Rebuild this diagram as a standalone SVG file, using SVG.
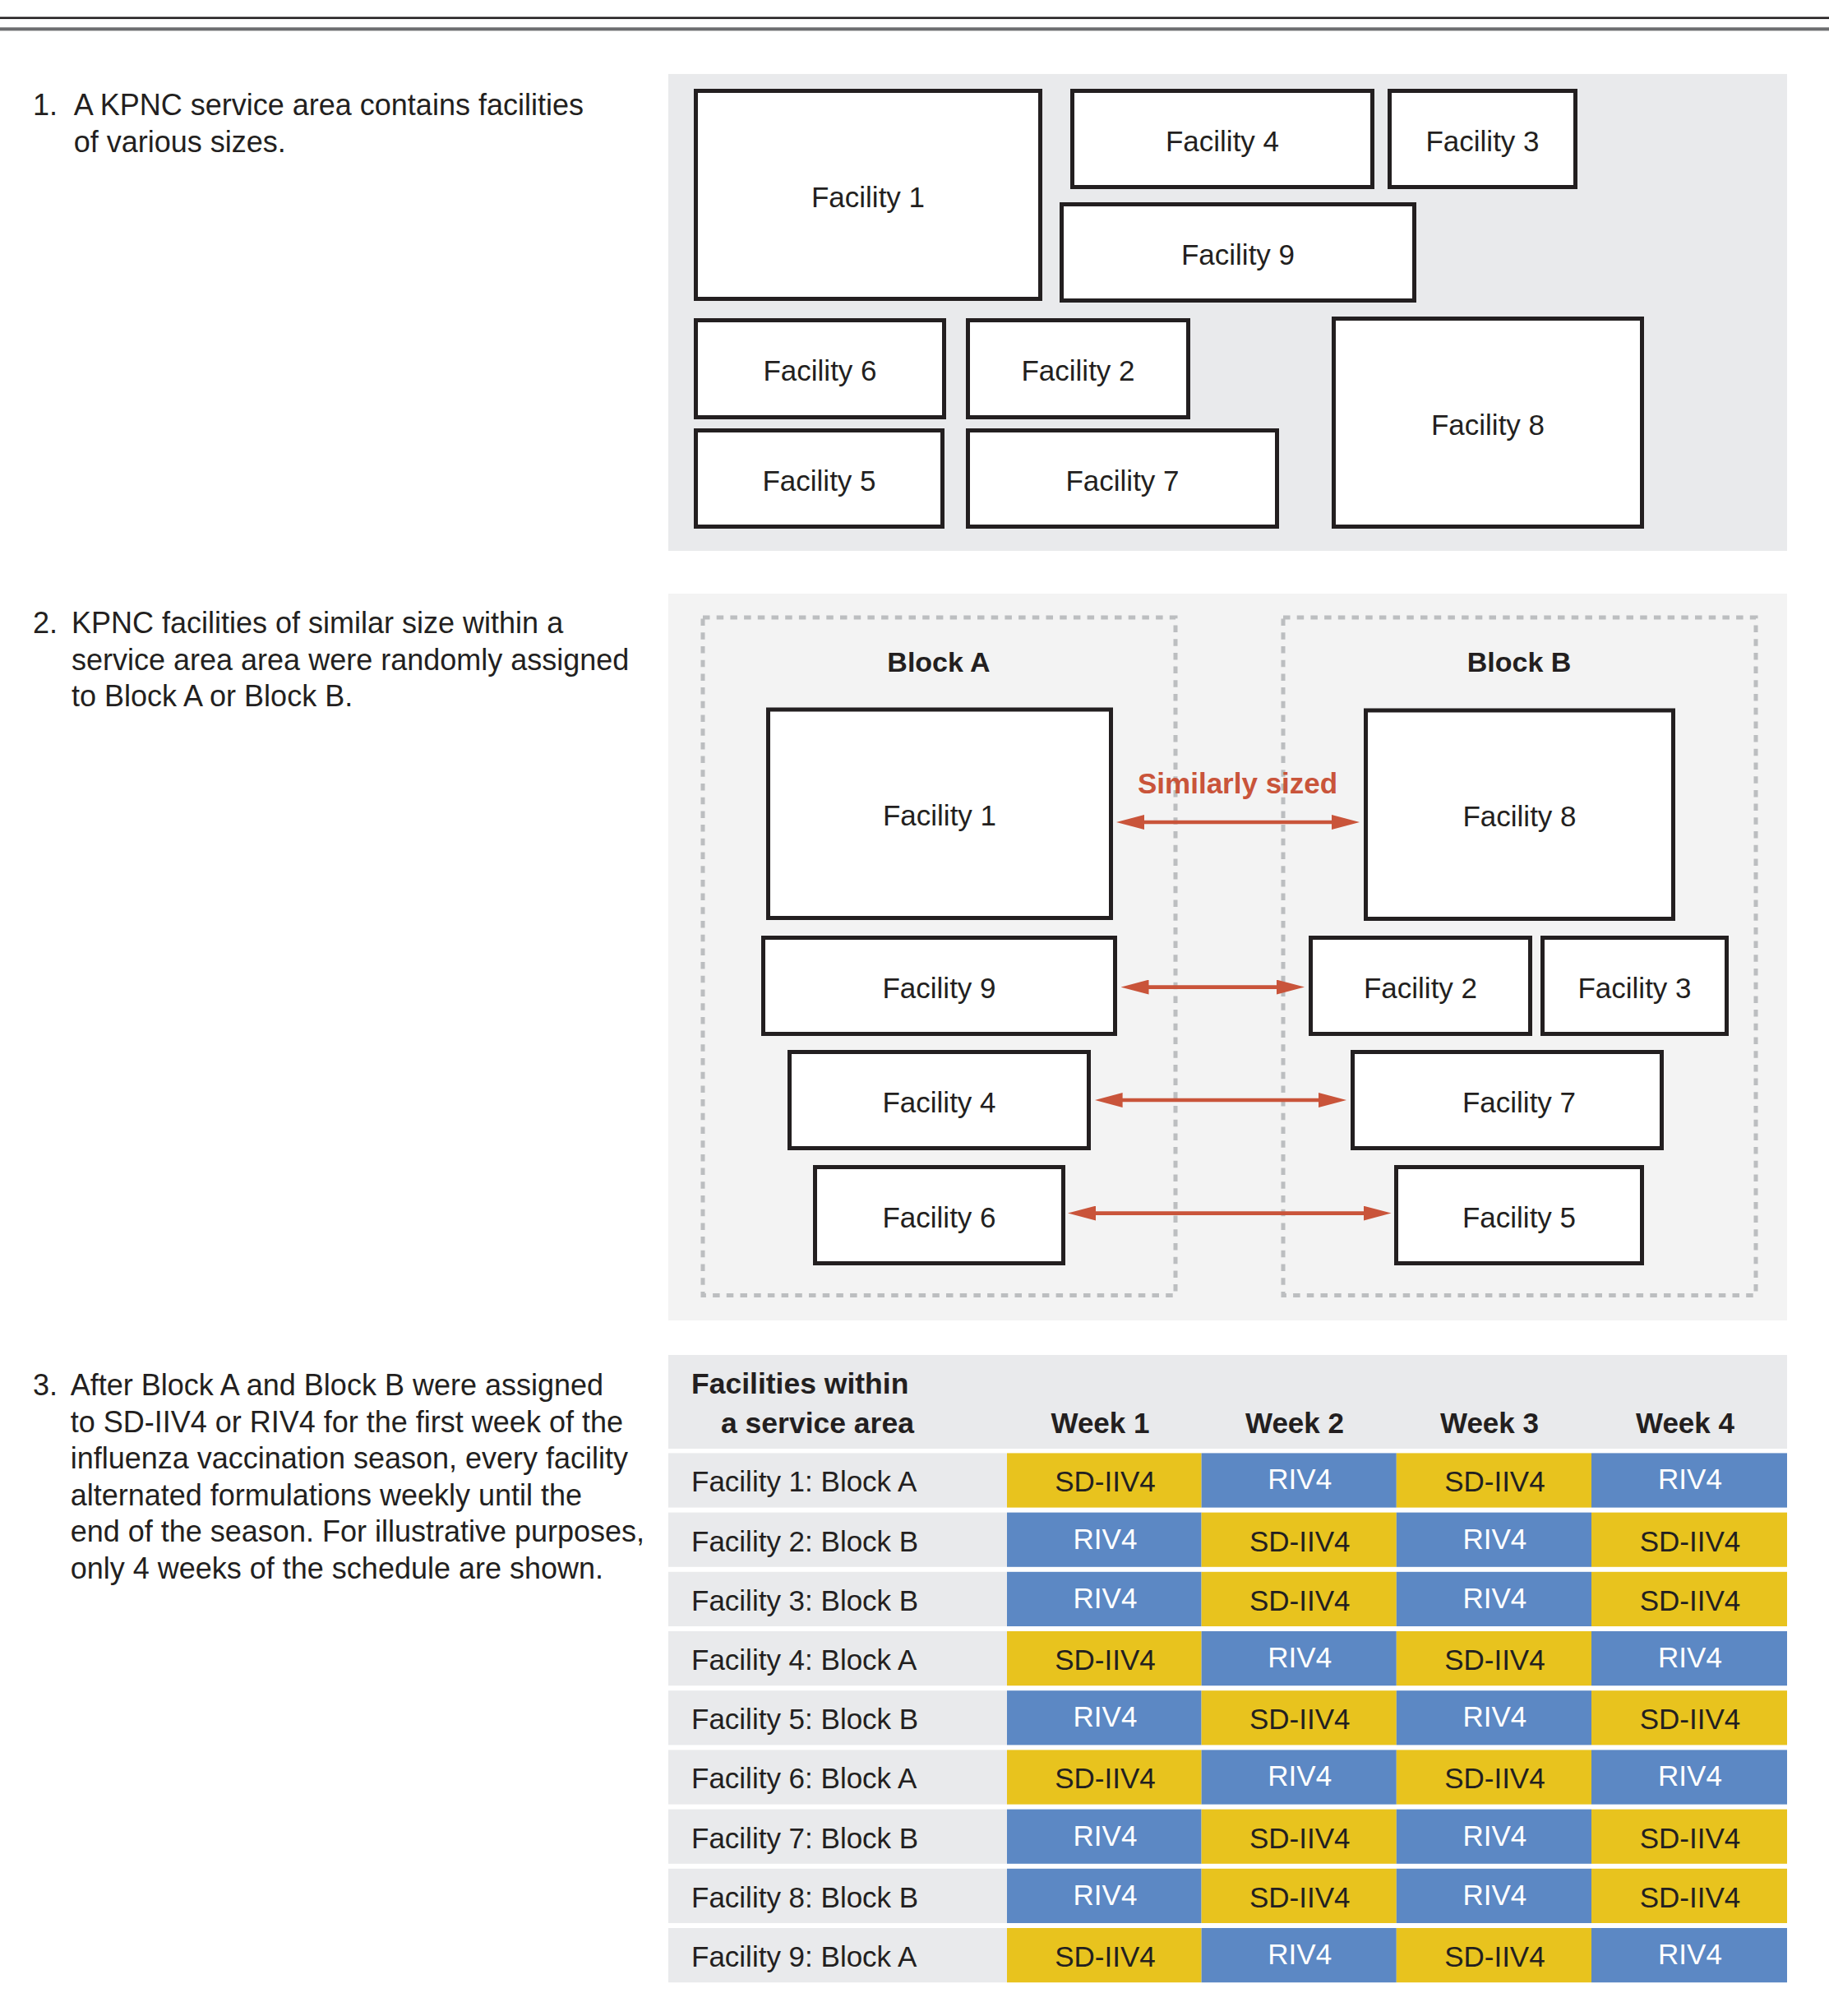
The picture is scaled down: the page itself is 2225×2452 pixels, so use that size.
<svg xmlns="http://www.w3.org/2000/svg" width="2225" height="2452" viewBox="0 0 2225 2452">
<defs>
<style>
text{font-family:"Liberation Sans",Arial,sans-serif;fill:#231F20}
.para{font-size:36px}
.num{font-size:36px;text-anchor:end}
.fac{fill:#FFFFFF;stroke:#231F20;stroke-width:5}
.lbl{font-size:35px;text-anchor:middle}
.blk{font-size:34px;font-weight:bold;text-anchor:middle}
.dash{fill:none;stroke:#BCBEC0;stroke-width:5;stroke-dasharray:8.5 8.2}
.conn{stroke:#C9543A;stroke-width:4.6;fill:none;marker-start:url(#ah);marker-end:url(#ah)}
.red{font-size:35px;font-weight:bold;text-anchor:middle;fill:#C9543A}
.hdr{font-size:35.5px;font-weight:bold}
.wk{font-size:35px;font-weight:bold;text-anchor:middle}
.rl{fill:#E9EAEC}
.sd{fill:#E8C31E}
.riv{fill:#5C88C4}
.rowt{font-size:35px}
.sdt{font-size:35px;text-anchor:middle;fill:#231F20}
.rivt{font-size:35px;text-anchor:middle;fill:#FFFFFF}
</style>
<marker id="ah" markerUnits="userSpaceOnUse" markerWidth="34" markerHeight="18" viewBox="0 0 34 18" refX="19" refY="9" orient="auto-start-reverse">
<path d="M0,0 L34,9 L0,18 Z" fill="#C9543A"/>
</marker>
</defs>
<rect x="0" y="0" width="2225" height="2452" fill="#FFFFFF"/>
<rect x="0" y="20.5" width="2225" height="2.6" fill="#231F20"/>
<rect x="0" y="33.3" width="2225" height="4.1" fill="#6D6E70"/>

<g id="step1-text">
<text class="num" x="70" y="140">1.</text>
<text class="para" x="89.7" y="140">A KPNC service area contains facilities</text>
<text class="para" x="89.7" y="185">of various sizes.</text>
</g>
<g id="step2-text">
<text class="num" x="70" y="770">2.</text>
<text class="para" x="87" y="770">KPNC facilities of similar size within a</text>
<text class="para" x="87" y="814.5">service area area were randomly assigned</text>
<text class="para" x="87" y="859">to Block A or Block B.</text>
</g>
<g id="step3-text">
<text class="num" x="70" y="1697">3.</text>
<text class="para" x="85.7" y="1697">After Block A and Block B were assigned</text>
<text class="para" x="85.7" y="1741.5">to SD-IIV4 or RIV4 for the first week of the</text>
<text class="para" x="85.7" y="1786">influenza vaccination season, every facility</text>
<text class="para" x="85.7" y="1830.5">alternated formulations weekly until the</text>
<text class="para" x="85.7" y="1875">end of the season. For illustrative purposes,</text>
<text class="para" x="85.7" y="1919.5">only 4 weeks of the schedule are shown.</text>
</g>

<g id="panel1">
<rect x="813" y="90" width="1361" height="580" fill="#E9EAEC"/>
<g id="p1-facility1"><rect class="fac" x="846.5" y="110.5" width="419" height="253"/><text class="lbl" x="1056" y="251.5">Facility 1</text></g>
<g id="p1-facility4"><rect class="fac" x="1304.5" y="110.5" width="365" height="117"/><text class="lbl" x="1487" y="183.5">Facility 4</text></g>
<g id="p1-facility3"><rect class="fac" x="1690.5" y="110.5" width="226" height="117"/><text class="lbl" x="1803.5" y="183.5">Facility 3</text></g>
<g id="p1-facility9"><rect class="fac" x="1291.5" y="248.5" width="429" height="117"/><text class="lbl" x="1506" y="321.5">Facility 9</text></g>
<g id="p1-facility6"><rect class="fac" x="846.5" y="389.5" width="302" height="118"/><text class="lbl" x="997.5" y="463">Facility 6</text></g>
<g id="p1-facility2"><rect class="fac" x="1177.5" y="389.5" width="268" height="118"/><text class="lbl" x="1311.5" y="463">Facility 2</text></g>
<g id="p1-facility5"><rect class="fac" x="846.5" y="523.5" width="300" height="117"/><text class="lbl" x="996.5" y="596.5">Facility 5</text></g>
<g id="p1-facility7"><rect class="fac" x="1177.5" y="523.5" width="376" height="117"/><text class="lbl" x="1365.5" y="596.5">Facility 7</text></g>
<g id="p1-facility8"><rect class="fac" x="1622.5" y="387.5" width="375" height="253"/><text class="lbl" x="1810" y="528.5">Facility 8</text></g>
</g>

<g id="panel2">
<rect x="813" y="722" width="1361" height="884" fill="#F3F3F3"/>
<g id="blockA"><rect class="dash" x="855" y="751" width="575" height="824.5"/><text class="blk" x="1142" y="816.5">Block A</text></g>
<g id="blockB"><rect class="dash" x="1561" y="751" width="575" height="824.5"/><text class="blk" x="1848" y="816.5">Block B</text></g>
<g id="p2-facility1"><rect class="fac" x="934.5" y="863" width="417" height="253.5"/><text class="lbl" x="1143" y="1004">Facility 1</text></g>
<g id="p2-facility8"><rect class="fac" x="1661.5" y="864" width="374" height="253.5"/><text class="lbl" x="1848.5" y="1005">Facility 8</text></g>
<g id="p2-facility9"><rect class="fac" x="928.5" y="1140.5" width="428" height="117"/><text class="lbl" x="1142.5" y="1213.5">Facility 9</text></g>
<g id="p2-facility2"><rect class="fac" x="1594.5" y="1140.5" width="267" height="117"/><text class="lbl" x="1728" y="1213.5">Facility 2</text></g>
<g id="p2-facility3"><rect class="fac" x="1876.5" y="1140.5" width="224" height="117"/><text class="lbl" x="1988.5" y="1213.5">Facility 3</text></g>
<g id="p2-facility4"><rect class="fac" x="960.5" y="1279.5" width="364" height="117"/><text class="lbl" x="1142.5" y="1352.5">Facility 4</text></g>
<g id="p2-facility7"><rect class="fac" x="1645.5" y="1279.5" width="376" height="117"/><text class="lbl" x="1848" y="1352.5">Facility 7</text></g>
<g id="p2-facility6"><rect class="fac" x="991.5" y="1419.5" width="302" height="117"/><text class="lbl" x="1142.5" y="1492.5">Facility 6</text></g>
<g id="p2-facility5"><rect class="fac" x="1698.5" y="1419.5" width="299" height="117"/><text class="lbl" x="1848" y="1492.5">Facility 5</text></g>
</g>

<g id="connectors">
<line class="conn" x1="1373" y1="1000" x2="1639" y2="1000"/>
<line class="conn" x1="1378.5" y1="1200.6" x2="1572" y2="1200.6"/>
<line class="conn" x1="1346.6" y1="1338" x2="1623" y2="1338"/>
<line class="conn" x1="1314" y1="1475.6" x2="1677.5" y2="1475.6"/>
<text class="red" x="1505.6" y="964.8">Similarly sized</text>
</g>

<g id="schedule-table">
<g id="table-header">
<rect x="813" y="1648" width="1361" height="114" fill="#E9EAEC"/>
<text class="hdr" x="841" y="1695">Facilities within</text>
<text class="hdr" x="877" y="1743">a service area</text>
<text class="wk" x="1338.5" y="1743">Week 1</text>
<text class="wk" x="1575" y="1743">Week 2</text>
<text class="wk" x="1812" y="1743">Week 3</text>
<text class="wk" x="2050" y="1743">Week 4</text>
</g>
<g id="row1">
<rect class="rl" x="813" y="1767.4" width="412" height="66.2"/>
<text class="rowt" x="841" y="1814.4">Facility 1: Block A</text>
<rect class="sd" x="1225" y="1767.4" width="236.6" height="66.2"/><text class="sdt" x="1344.5" y="1814.4">SD-IIV4</text>
<rect class="riv" x="1461.6" y="1767.4" width="237.2" height="66.2"/><text class="rivt" x="1581.2" y="1811.4">RIV4</text>
<rect class="sd" x="1698.8" y="1767.4" width="237.2" height="66.2"/><text class="sdt" x="1818.4" y="1814.4">SD-IIV4</text>
<rect class="riv" x="1936" y="1767.4" width="238" height="66.2"/><text class="rivt" x="2056" y="1811.4">RIV4</text>
</g>
<g id="row2">
<rect class="rl" x="813" y="1839.6" width="412" height="66.2"/>
<text class="rowt" x="841" y="1886.6">Facility 2: Block B</text>
<rect class="riv" x="1225" y="1839.6" width="236.6" height="66.2"/><text class="rivt" x="1344.5" y="1883.6">RIV4</text>
<rect class="sd" x="1461.6" y="1839.6" width="237.2" height="66.2"/><text class="sdt" x="1581.2" y="1886.6">SD-IIV4</text>
<rect class="riv" x="1698.8" y="1839.6" width="237.2" height="66.2"/><text class="rivt" x="1818.4" y="1883.6">RIV4</text>
<rect class="sd" x="1936" y="1839.6" width="238" height="66.2"/><text class="sdt" x="2056" y="1886.6">SD-IIV4</text>
</g>
<g id="row3">
<rect class="rl" x="813" y="1911.8" width="412" height="66.2"/>
<text class="rowt" x="841" y="1958.8">Facility 3: Block B</text>
<rect class="riv" x="1225" y="1911.8" width="236.6" height="66.2"/><text class="rivt" x="1344.5" y="1955.8">RIV4</text>
<rect class="sd" x="1461.6" y="1911.8" width="237.2" height="66.2"/><text class="sdt" x="1581.2" y="1958.8">SD-IIV4</text>
<rect class="riv" x="1698.8" y="1911.8" width="237.2" height="66.2"/><text class="rivt" x="1818.4" y="1955.8">RIV4</text>
<rect class="sd" x="1936" y="1911.8" width="238" height="66.2"/><text class="sdt" x="2056" y="1958.8">SD-IIV4</text>
</g>
<g id="row4">
<rect class="rl" x="813" y="1984" width="412" height="66.2"/>
<text class="rowt" x="841" y="2031">Facility 4: Block A</text>
<rect class="sd" x="1225" y="1984" width="236.6" height="66.2"/><text class="sdt" x="1344.5" y="2031">SD-IIV4</text>
<rect class="riv" x="1461.6" y="1984" width="237.2" height="66.2"/><text class="rivt" x="1581.2" y="2028">RIV4</text>
<rect class="sd" x="1698.8" y="1984" width="237.2" height="66.2"/><text class="sdt" x="1818.4" y="2031">SD-IIV4</text>
<rect class="riv" x="1936" y="1984" width="238" height="66.2"/><text class="rivt" x="2056" y="2028">RIV4</text>
</g>
<g id="row5">
<rect class="rl" x="813" y="2056.2" width="412" height="66.2"/>
<text class="rowt" x="841" y="2103.2">Facility 5: Block B</text>
<rect class="riv" x="1225" y="2056.2" width="236.6" height="66.2"/><text class="rivt" x="1344.5" y="2100.2">RIV4</text>
<rect class="sd" x="1461.6" y="2056.2" width="237.2" height="66.2"/><text class="sdt" x="1581.2" y="2103.2">SD-IIV4</text>
<rect class="riv" x="1698.8" y="2056.2" width="237.2" height="66.2"/><text class="rivt" x="1818.4" y="2100.2">RIV4</text>
<rect class="sd" x="1936" y="2056.2" width="238" height="66.2"/><text class="sdt" x="2056" y="2103.2">SD-IIV4</text>
</g>
<g id="row6">
<rect class="rl" x="813" y="2128.4" width="412" height="66.2"/>
<text class="rowt" x="841" y="2175.4">Facility 6: Block A</text>
<rect class="sd" x="1225" y="2128.4" width="236.6" height="66.2"/><text class="sdt" x="1344.5" y="2175.4">SD-IIV4</text>
<rect class="riv" x="1461.6" y="2128.4" width="237.2" height="66.2"/><text class="rivt" x="1581.2" y="2172.4">RIV4</text>
<rect class="sd" x="1698.8" y="2128.4" width="237.2" height="66.2"/><text class="sdt" x="1818.4" y="2175.4">SD-IIV4</text>
<rect class="riv" x="1936" y="2128.4" width="238" height="66.2"/><text class="rivt" x="2056" y="2172.4">RIV4</text>
</g>
<g id="row7">
<rect class="rl" x="813" y="2200.6" width="412" height="66.2"/>
<text class="rowt" x="841" y="2247.6">Facility 7: Block B</text>
<rect class="riv" x="1225" y="2200.6" width="236.6" height="66.2"/><text class="rivt" x="1344.5" y="2244.6">RIV4</text>
<rect class="sd" x="1461.6" y="2200.6" width="237.2" height="66.2"/><text class="sdt" x="1581.2" y="2247.6">SD-IIV4</text>
<rect class="riv" x="1698.8" y="2200.6" width="237.2" height="66.2"/><text class="rivt" x="1818.4" y="2244.6">RIV4</text>
<rect class="sd" x="1936" y="2200.6" width="238" height="66.2"/><text class="sdt" x="2056" y="2247.6">SD-IIV4</text>
</g>
<g id="row8">
<rect class="rl" x="813" y="2272.8" width="412" height="66.2"/>
<text class="rowt" x="841" y="2319.8">Facility 8: Block B</text>
<rect class="riv" x="1225" y="2272.8" width="236.6" height="66.2"/><text class="rivt" x="1344.5" y="2316.8">RIV4</text>
<rect class="sd" x="1461.6" y="2272.8" width="237.2" height="66.2"/><text class="sdt" x="1581.2" y="2319.8">SD-IIV4</text>
<rect class="riv" x="1698.8" y="2272.8" width="237.2" height="66.2"/><text class="rivt" x="1818.4" y="2316.8">RIV4</text>
<rect class="sd" x="1936" y="2272.8" width="238" height="66.2"/><text class="sdt" x="2056" y="2319.8">SD-IIV4</text>
</g>
<g id="row9">
<rect class="rl" x="813" y="2345" width="412" height="66.2"/>
<text class="rowt" x="841" y="2392">Facility 9: Block A</text>
<rect class="sd" x="1225" y="2345" width="236.6" height="66.2"/><text class="sdt" x="1344.5" y="2392">SD-IIV4</text>
<rect class="riv" x="1461.6" y="2345" width="237.2" height="66.2"/><text class="rivt" x="1581.2" y="2389">RIV4</text>
<rect class="sd" x="1698.8" y="2345" width="237.2" height="66.2"/><text class="sdt" x="1818.4" y="2392">SD-IIV4</text>
<rect class="riv" x="1936" y="2345" width="238" height="66.2"/><text class="rivt" x="2056" y="2389">RIV4</text>
</g>
</g>
</svg>
